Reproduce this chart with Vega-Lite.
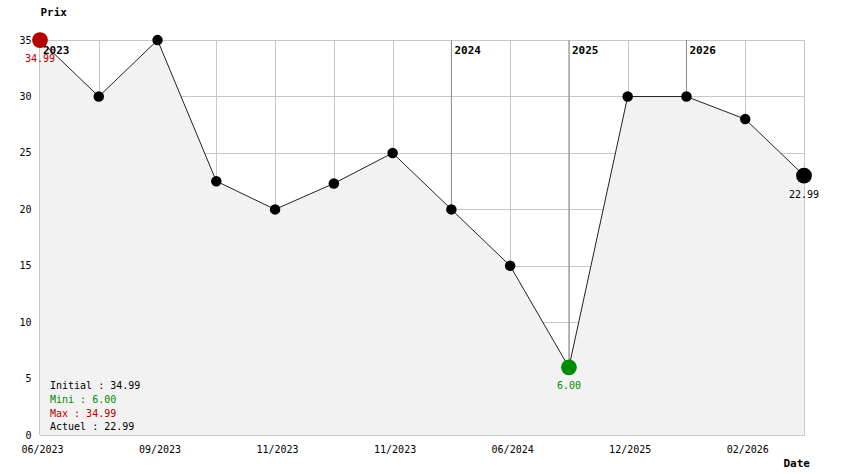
{
  "$schema": "https://vega.github.io/schema/vega-lite/v6.json",
  "width": 764,
  "height": 395,
  "autosize": {"type": "none"},
  "padding": {"left": 40, "top": 40, "right": 40, "bottom": 39},
  "background": "white",
  "config": {"view": {"stroke": null}, "font": "DejaVu Sans Mono"},
  "datasets": {
    "prices": [
      {"idx": 0, "price": 34.99, "kind": "max"},
      {"idx": 1, "price": 29.99},
      {"idx": 2, "price": 34.99},
      {"idx": 3, "price": 22.49},
      {"idx": 4, "price": 19.99},
      {"idx": 5, "price": 22.29},
      {"idx": 6, "price": 24.99},
      {"idx": 7, "price": 19.99},
      {"idx": 8, "price": 14.99},
      {"idx": 9, "price": 6.0, "kind": "min"},
      {"idx": 10, "price": 29.99},
      {"idx": 11, "price": 29.99},
      {"idx": 12, "price": 27.99},
      {"idx": 13, "price": 22.99, "kind": "actuel"}
    ],
    "years": [
      {"idx": 0, "year": "2023"},
      {"idx": 7, "year": "2024"},
      {"idx": 9, "year": "2025"},
      {"idx": 11, "year": "2026"}
    ]
  },
  "layer": [
    {
      "data": {"name": "years"},
      "mark": {"type": "rule", "color": "#8c8c8c", "strokeWidth": 1},
      "encoding": {
        "x": {"field": "idx", "type": "quantitative", "scale": {"domain": [0, 13], "nice": false, "zero": false},
          "axis": {
            "values": [0,1,2,3,4,5,6,7,8,9,10,11,12,13],
            "grid": true, "gridColor": "#c8c8c8", "gridWidth": 1, "zindex": 0,
            "domain": false, "ticks": false,
            "labelExpr": "datum.value % 2 == 0 ? ['06/2023','09/2023','11/2023','11/2023','06/2024','12/2025','02/2026'][datum.value / 2] : ''",
            "labelFont": "DejaVu Sans Mono", "labelFontSize": 10, "labelColor": "black",
            "labelPadding": 9, "labelOverlap": false, "labelFlush": false, "labelBaseline": "top", "labelOffset": 2,
            "title": "Date", "titleX": 743, "titleY": 28, "titleAlign": "left", "titleBaseline": "middle",
            "titleFont": "DejaVu Sans Mono", "titleFontWeight": "bold", "titleFontSize": 11, "titleColor": "black"
          }},
        "y": {"datum": 0, "type": "quantitative", "scale": {"domain": [0, 35], "nice": false},
          "axis": {
            "values": [0,5,10,15,20,25,30,35],
            "grid": true, "gridColor": "#c8c8c8", "gridWidth": 1, "zindex": 0,
            "domain": false, "ticks": false,
            "labelFont": "DejaVu Sans Mono", "labelFontSize": 10, "labelColor": "black", "labelPadding": 9,
            "title": "Prix", "titleAngle": 0, "titleX": 0, "titleY": -28, "titleAlign": "left", "titleBaseline": "middle",
            "titleFont": "DejaVu Sans Mono", "titleFontWeight": "bold", "titleFontSize": 11, "titleColor": "black"
          }},
        "y2": {"datum": 35}
      }
    },
    {
      "data": {"name": "prices"},
      "mark": {"type": "area", "fill": "#f2f2f2", "fillOpacity": 1, "opacity": 1, "stroke": null},
      "encoding": {
        "x": {"field": "idx", "type": "quantitative"},
        "y": {"field": "price", "type": "quantitative"}
      }
    },
    {
      "data": {"name": "years"},
      "mark": {"type": "text", "align": "left", "baseline": "middle", "dx": 3, "dy": 11, "fontWeight": "bold", "fontSize": 11, "color": "black", "font": "DejaVu Sans Mono"},
      "encoding": {
        "x": {"field": "idx", "type": "quantitative"},
        "y": {"datum": 35, "type": "quantitative"},
        "text": {"field": "year"}
      }
    },
    {
      "data": {"name": "prices"},
      "mark": {"type": "line", "color": "#222222", "strokeWidth": 1},
      "encoding": {
        "x": {"field": "idx", "type": "quantitative"},
        "y": {"field": "price", "type": "quantitative"}
      }
    },
    {
      "data": {"name": "prices"},
      "mark": {"type": "circle", "color": "black", "size": 110, "opacity": 1},
      "encoding": {
        "x": {"field": "idx", "type": "quantitative"},
        "y": {"field": "price", "type": "quantitative"}
      }
    },
    {
      "data": {"name": "prices"},
      "transform": [{"filter": "isValid(datum.kind)"}],
      "mark": {"type": "circle", "size": 250, "opacity": 1},
      "encoding": {
        "x": {"field": "idx", "type": "quantitative"},
        "y": {"field": "price", "type": "quantitative"},
        "color": {"field": "kind", "type": "nominal", "scale": {"domain": ["max", "min", "actuel"], "range": ["#b30000", "#008c00", "#000000"]}, "legend": null}
      }
    },
    {
      "data": {"name": "prices"},
      "transform": [{"filter": "isValid(datum.kind)"}],
      "mark": {"type": "text", "dy": 19, "baseline": "middle", "align": "center", "fontSize": 10, "font": "DejaVu Sans Mono"},
      "encoding": {
        "x": {"field": "idx", "type": "quantitative"},
        "y": {"field": "price", "type": "quantitative"},
        "text": {"field": "price", "type": "quantitative", "format": ".2f"},
        "color": {"field": "kind", "type": "nominal", "scale": {"domain": ["max", "min", "actuel"], "range": ["#b30000", "#008c00", "#000000"]}, "legend": null}
      }
    },
    {
      "data": {"values": [{"t": "Initial : 34.99"}]},
      "mark": {"type": "text", "align": "left", "baseline": "middle", "dx": 10, "fontSize": 10, "color": "black", "font": "DejaVu Sans Mono"},
      "encoding": {"x": {"datum": 0, "type": "quantitative"}, "y": {"datum": 4.34, "type": "quantitative"}, "text": {"field": "t"}}
    },
    {
      "data": {"values": [{"t": "Mini : 6.00"}]},
      "mark": {"type": "text", "align": "left", "baseline": "middle", "dx": 10, "fontSize": 10, "color": "#008c00", "font": "DejaVu Sans Mono"},
      "encoding": {"x": {"datum": 0, "type": "quantitative"}, "y": {"datum": 3.1, "type": "quantitative"}, "text": {"field": "t"}}
    },
    {
      "data": {"values": [{"t": "Max : 34.99"}]},
      "mark": {"type": "text", "align": "left", "baseline": "middle", "dx": 10, "fontSize": 10, "color": "#b30000", "font": "DejaVu Sans Mono"},
      "encoding": {"x": {"datum": 0, "type": "quantitative"}, "y": {"datum": 1.86, "type": "quantitative"}, "text": {"field": "t"}}
    },
    {
      "data": {"values": [{"t": "Actuel : 22.99"}]},
      "mark": {"type": "text", "align": "left", "baseline": "middle", "dx": 10, "fontSize": 10, "color": "black", "font": "DejaVu Sans Mono"},
      "encoding": {"x": {"datum": 0, "type": "quantitative"}, "y": {"datum": 0.71, "type": "quantitative"}, "text": {"field": "t"}}
    }
  ]
}
